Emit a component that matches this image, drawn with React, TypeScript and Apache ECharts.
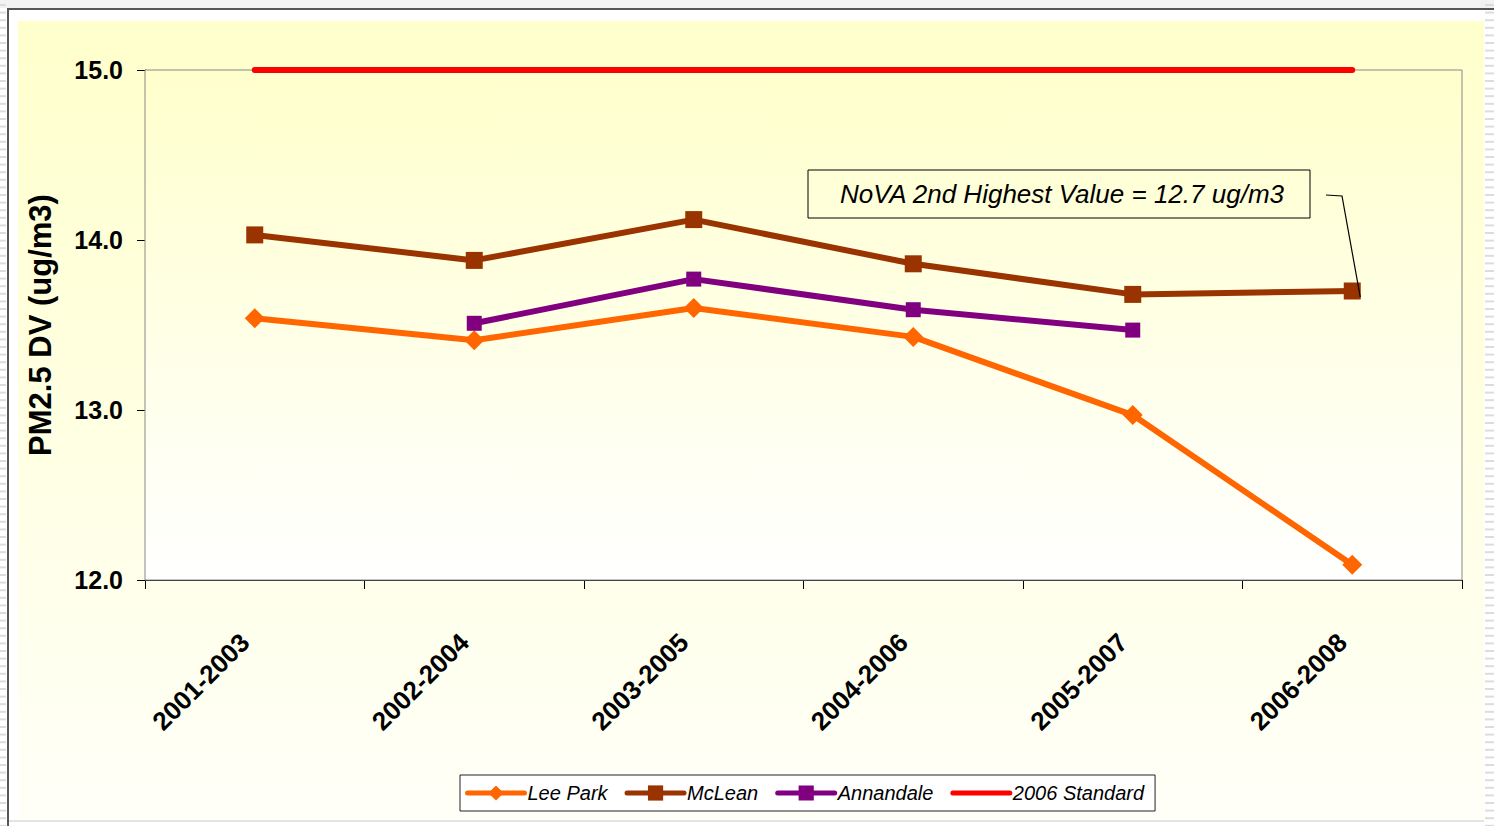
import React, { useEffect, useRef } from "react";
import * as echarts from "echarts";

const categories = ["2001-2003", "2002-2004", "2003-2005", "2004-2006", "2005-2007", "2006-2008"];
const leePark = [13.54, 13.41, 13.6, 13.43, 12.97, 12.09];
const mcLean = [14.03, 13.88, 14.12, 13.86, 13.68, 13.7];
const annandale = [null, 13.51, 13.77, 13.59, 13.47, null];
const standard2006 = [15, 15, 15, 15, 15, 15];
const seriesNames = ["Lee Park", "McLean", "Annandale", "2006 Standard"];
const yMin = 12;
const yMax = 15;
const yInterval = 1;
const annotationText = "NoVA 2nd Highest Value = 12.7 ug/m3";

const W = 1494;
const H = 826;
const FONT = "'Liberation Sans', Arial, sans-serif";

function decorations() {
  const g: any[] = [];
  g.push({ type: "rect", shape: { x: 0, y: 0, width: W, height: 8 }, style: { fill: "#f2f2f2" }, silent: true });
  g.push({ type: "rect", shape: { x: 7, y: 8, width: W - 7, height: 2 }, style: { fill: "#555" }, silent: true });
  g.push({ type: "rect", shape: { x: 7, y: 8, width: 2, height: H - 8 }, style: { fill: "#555" }, silent: true });
  for (let y = 4; y < H; y += 7.6) {
    g.push({ type: "rect", shape: { x: 0, y, width: 6, height: 2 }, style: { fill: "#dcdcdc" }, silent: true });
    g.push({ type: "rect", shape: { x: 1485, y, width: 9, height: 2 }, style: { fill: "#dcdcdc" }, silent: true });
  }
  g.push({
    type: "rect",
    z: -10,
    shape: { x: 18, y: 21, width: 1466, height: 799 },
    style: {
      fill: new echarts.graphic.LinearGradient(0, 0, 0, 1, [
        { offset: 0, color: "#FFFFCC" },
        { offset: 1, color: "#FFFFF8" },
      ]),
    },
    silent: true,
  });
  g.push({ type: "rect", shape: { x: 9, y: 820, width: 1475, height: 2 }, style: { fill: "#e4e4e4" }, silent: true });
  return g;
}

export default function App() {
  const ref = useRef<HTMLDivElement>(null);
  useEffect(() => {
    if (!ref.current) return;
    const chart = echarts.init(ref.current, null, { renderer: "svg" });
    const option: any = {
      animation: false,
      backgroundColor: "#ffffff",
      textStyle: { fontFamily: FONT },
      grid: {
        left: 145,
        top: 70,
        right: W - 1462,
        bottom: H - 580,
        show: true,
        borderColor: "#888",
        borderWidth: 1,
        backgroundColor: new echarts.graphic.LinearGradient(0, 0, 0, 1, [
          { offset: 0, color: "#FFFFCC" },
          { offset: 1, color: "#FFFFFF" },
        ]),
        z: 1,
      },
      legend: {
        left: 460,
        top: 775,
        orient: "horizontal",
        backgroundColor: "#ffffff",
        borderColor: "#222",
        borderWidth: 1,
        borderRadius: 0,
        padding: [8, 11, 8, 5],
        itemGap: 17,
        itemWidth: 57,
        itemHeight: 19,
        lineStyle: { width: 5, cap: "round" },
        textStyle: { fontFamily: FONT, fontSize: 20, fontStyle: "italic", color: "#000", padding: [0, 0, 0, -2] },
        data: [
          seriesNames[0],
          seriesNames[1],
          seriesNames[2],
          { name: seriesNames[3], itemStyle: { color: "rgba(0,0,0,0)", borderWidth: 0 } },
        ],
      },
      xAxis: {
        type: "category",
        data: categories,
        boundaryGap: true,
        axisLine: { show: true, lineStyle: { color: "#000", width: 1 } },
        axisTick: { show: true, length: 9, lineStyle: { color: "#000" } },
        axisLabel: {
          rotate: 45,
          margin: 48,
          interval: 0,
          padding: [0, 14, 0, 0],
          fontFamily: FONT,
          fontSize: 26,
          fontWeight: "bold",
          color: "#000",
        },
        splitLine: { show: false },
      },
      yAxis: {
        type: "value",
        min: yMin,
        max: yMax,
        interval: yInterval,
        name: "PM2.5 DV (ug/m3)",
        nameLocation: "middle",
        nameGap: 89,
        nameRotate: 90,
        nameTextStyle: { fontFamily: FONT, fontSize: 31, fontWeight: "bold", color: "#000" },
        axisLine: { show: true, lineStyle: { color: "#000", width: 1 } },
        axisTick: { show: true, length: 8, lineStyle: { color: "#000" } },
        axisLabel: {
          margin: 22,
          fontFamily: FONT,
          fontSize: 25,
          fontWeight: "bold",
          color: "#000",
          formatter: (v: number) => v.toFixed(1),
        },
        splitLine: { show: true, lineStyle: { color: ["#000", "#000", "#000", "#888"], width: 1 } },
      },
      series: [
        {
          name: seriesNames[0],
          type: "line",
          data: leePark,
          color: "#FF6600",
          symbol: "diamond",
          symbolSize: 20,
          lineStyle: { width: 6, color: "#FF6600" },
          itemStyle: { color: "#FF6600" },
          z: 5,
        },
        {
          name: seriesNames[1],
          type: "line",
          data: mcLean,
          color: "#993300",
          symbol: "rect",
          symbolSize: 17,
          lineStyle: { width: 6, color: "#993300" },
          itemStyle: { color: "#993300" },
          z: 5,
        },
        {
          name: seriesNames[2],
          type: "line",
          data: annandale,
          color: "#800080",
          symbol: "rect",
          symbolSize: 15,
          connectNulls: false,
          lineStyle: { width: 6, color: "#800080" },
          itemStyle: { color: "#800080" },
          z: 5,
        },
        {
          name: seriesNames[3],
          type: "line",
          data: standard2006,
          color: "#FF0000",
          symbol: "none",
          lineStyle: { width: 6, color: "#FF0000", cap: "round" },
          itemStyle: { color: "#FF0000" },
          z: 6,
        },
      ],
      graphic: decorations(),
    };
    chart.setOption(option);

    const lastIdx = mcLean.length - 1;
    const pt = chart.convertToPixel({ gridIndex: 0 }, [lastIdx, mcLean[lastIdx]]) as number[];
    const boxX = 808, boxY = 170, boxW = 502, boxH = 48;
    chart.setOption({
      graphic: [
        ...decorations(),
        {
          type: "rect",
          z: 20,
          shape: { x: boxX, y: boxY, width: boxW, height: boxH },
          style: { fill: "rgba(0,0,0,0)", stroke: "#000", lineWidth: 1 },
          silent: true,
        },
        {
          type: "text",
          z: 21,
          x: boxX + boxW / 2 + 3,
          y: boxY + boxH / 2,
          style: {
            text: annotationText,
            fontFamily: FONT,
            fontSize: 26,
            fontStyle: "italic",
            fill: "#000",
            align: "center",
            verticalAlign: "middle",
          },
          silent: true,
        },
        {
          type: "polyline",
          z: 21,
          shape: { points: [[1326, 195], [1342, 196], [pt[0] + 8, pt[1] + 6]] },
          style: { stroke: "#000", lineWidth: 1.2, fill: "none" },
          silent: true,
        },
      ],
    });
    return () => chart.dispose();
  }, []);
  return <div ref={ref} style={{ position: "absolute", left: 0, top: 0, width: W, height: H }} />;
}
